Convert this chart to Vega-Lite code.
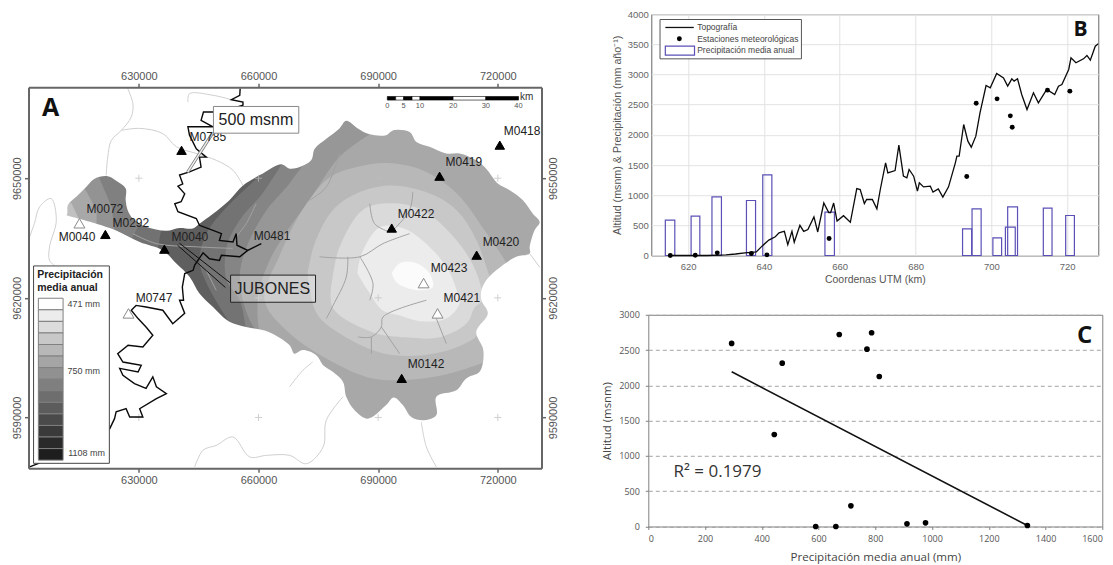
{
"$schema":"https://vega.github.io/schema/vega-lite/v6.json",
"padding":{"left":11.5,"top":8.2,"right":0,"bottom":0},
"background":"white",
"config":{"view":{"stroke":null},"font":"Liberation Sans","text":{"font":"Liberation Sans"}},
"datasets":{
"frame":[{"e":602.33,"n":9577.28},{"e":730.96,"n":9577.28},{"e":730.96,"n":9672.83},{"e":602.33,"n":9672.83}],
"r8":[{"e":661.0,"n":9651.2},{"e":652.0,"n":9642.7},{"e":647.0,"n":9636.2},{"e":645.2,"n":9629.4},{"e":647.0,"n":9623.6},{"e":655.3,"n":9609.4},{"e":670.3,"n":9581.8},{"e":730.9,"n":9581.8},{"e":730.9,"n":9672},{"e":661,"n":9672}],
"r7":[{"e":665.8,"n":9653.5},{"e":661.0,"n":9646.2},{"e":655.3,"n":9639.5},{"e":652.0,"n":9632.7},{"e":652.0,"n":9624.4},{"e":655.3,"n":9619.4},{"e":657.8,"n":9609.4},{"e":670.3,"n":9589.3},{"e":730.9,"n":9586},{"e":730.9,"n":9672},{"e":665.8,"n":9672}],
"r6":[{"e":674.1,"n":9657.5},{"e":667.8,"n":9648.7},{"e":662.0,"n":9642.0},{"e":657.0,"n":9632.7},{"e":655.3,"n":9625.2},{"e":657.8,"n":9614.4},{"e":665.3,"n":9604.4},{"e":670.3,"n":9589.3},{"e":687,"n":9586},{"e":730.9,"n":9586},{"e":730.9,"n":9672},{"e":674.1,"n":9672}],
"r5":[{"e":687.9,"n":9661.0},{"e":680.3,"n":9655.3},{"e":672.8,"n":9644.5},{"e":667.8,"n":9637.7},{"e":662.8,"n":9629.4},{"e":659.8,"n":9619.4},{"e":661.5,"n":9606.9},{"e":670.3,"n":9594.3},{"e":687.9,"n":9586.8},{"e":730.9,"n":9586.8},{"e":730.9,"n":9669.6},{"e":687.9,"n":9669.6}],
"r4":[{"e":664.8,"n":9629.4},{"e":667.8,"n":9636.2},{"e":672.1,"n":9643.7},{"e":677.8,"n":9650.2},{"e":684.6,"n":9652.8},{"e":692.1,"n":9653.8},{"e":701.1,"n":9652.0},{"e":709.7,"n":9646.2},{"e":717.2,"n":9636.2},{"e":722.2,"n":9628.7},{"e":726.2,"n":9621.1},{"e":718.0,"n":9605.1},{"e":712.2,"n":9602.3},{"e":701.1,"n":9599.8},{"e":688.6,"n":9599.8},{"e":678.6,"n":9603.9},{"e":667.8,"n":9611.1},{"e":661.5,"n":9619.4},{"e":664.8,"n":9629.4}],
"r3":[{"e":672.3,"n":9626.2},{"e":674.1,"n":9633.7},{"e":678.6,"n":9642.0},{"e":684.6,"n":9646.2},{"e":692.9,"n":9648.2},{"e":702.9,"n":9646.2},{"e":709.7,"n":9642.0},{"e":714.7,"n":9634.4},{"e":718.0,"n":9625.2},{"e":719.7,"n":9621.1},{"e":715.4,"n":9611.1},{"e":709.7,"n":9607.6},{"e":701.1,"n":9605.6},{"e":691.1,"n":9606.1},{"e":680.3,"n":9611.1},{"e":674.6,"n":9616.1},{"e":672.3,"n":9626.2}],
"r2":[{"e":678.6,"n":9625.2},{"e":680.3,"n":9632.7},{"e":686.1,"n":9642.0},{"e":692.9,"n":9643.7},{"e":701.1,"n":9642.0},{"e":709.7,"n":9634.4},{"e":714.7,"n":9626.2},{"e":716.0,"n":9619.4},{"e":714.2,"n":9617.6},{"e":712.2,"n":9613.6},{"e":705.4,"n":9610.1},{"e":697.1,"n":9610.1},{"e":688.6,"n":9611.4},{"e":678.6,"n":9617.6},{"e":678.6,"n":9625.2}],
"r1":[{"e":684.8,"n":9626.2},{"e":685.9,"n":9631.2},{"e":690.4,"n":9637.7},{"e":696.1,"n":9637.5},{"e":701.1,"n":9634.4},{"e":707.2,"n":9627.7},{"e":709.7,"n":9621.9},{"e":710.4,"n":9618.6},{"e":707.2,"n":9614.9},{"e":701.1,"n":9614.1},{"e":695.4,"n":9615.6},{"e":691.1,"n":9616.9},{"e":687.4,"n":9621.9},{"e":684.8,"n":9626.2}],
"r0":[{"e":693.4,"n":9626.2},{"e":695.4,"n":9628.7},{"e":699.6,"n":9628.7},{"e":702.9,"n":9626.2},{"e":703.7,"n":9622.7},{"e":701.1,"n":9621.9},{"e":697.4,"n":9622.4},{"e":694.6,"n":9623.9},{"e":693.4,"n":9626.2}],
"w1":[{"e":636.0,"n":9639.5},{"e":634.4,"n":9630.2},{"e":620.1,"n":9619.4},{"e":610.1,"n":9649.5},{"e":636,"n":9652}],
"w2":[{"e":629.7,"n":9637.7},{"e":627.7,"n":9633.7},{"e":620.1,"n":9629.4},{"e":610.1,"n":9629.4},{"e":610.1,"n":9652},{"e":629.7,"n":9652}],
"w3":[{"e":620.1,"n":9650},{"e":623.2,"n":9642.7},{"e":623.9,"n":9637},{"e":623.9,"n":9632},{"e":607.6,"n":9632},{"e":607.6,"n":9652},{"e":620.1,"n":9652}],
"w4":[{"e":616.4,"n":9647.5},{"e":619.4,"n":9642},{"e":619.4,"n":9637},{"e":607.6,"n":9637},{"e":607.6,"n":9649.5}],
"w5":[{"e":613.1,"n":9643.7},{"e":615.1,"n":9639.5},{"e":616.6,"n":9637.5},{"e":607.6,"n":9637.5},{"e":607.6,"n":9645.7}],
"mask":[{"e":611.8,"n":9640.7},{"e":606,"n":9640.7},{"e":600,"n":9640.7},{"e":560,"n":9640.7},{"e":500,"n":9640.7},{"e":500,"n":9400},{"e":850,"n":9400},{"e":850,"n":9800},{"e":500,"n":9800},{"e":500,"n":9640.7},{"e":560,"n":9640.7},{"e":600,"n":9640.7},{"e":606,"n":9640.7},
{"e":611.8,"n":9640.7},{"e":612.2,"n":9643.2},{"e":614.7,"n":9645.7},{"e":616.4,"n":9647.4},{"e":618.9,"n":9649.9},{"e":622.2,"n":9650.5},{"e":624.7,"n":9649.1},{"e":626.7,"n":9647.4},{"e":626.7,"n":9644.5},{"e":627.2,"n":9642.0},{"e":628.5,"n":9639.9},{"e":631.8,"n":9637.8},{"e":636.9,"n":9636.8},{"e":640.2,"n":9637.5},{"e":643.5,"n":9637.4},{"e":645.2,"n":9638.6},{"e":648.6,"n":9641.1},{"e":652.7,"n":9644.5},{"e":656.1,"n":9648.2},{"e":661.1,"n":9651.2},{"e":665.7,"n":9653.5},{"e":667.8,"n":9652.4},{"e":670.3,"n":9652.8},{"e":673.2,"n":9654.5},{"e":674.1,"n":9657.4},{"e":677.0,"n":9659.9},{"e":680.3,"n":9662.5},{"e":682.0,"n":9664.4},{"e":684.9,"n":9662.5},{"e":687.9,"n":9661.0},{"e":692.0,"n":9660.8},{"e":693.7,"n":9662.0},{"e":697.9,"n":9661.6},{"e":699.6,"n":9659.1},{"e":702.9,"n":9657.9},{"e":707.1,"n":9656.2},{"e":710.4,"n":9656.2},{"e":714.6,"n":9654.5},{"e":717.1,"n":9652.4},{"e":720.0,"n":9648.7},{"e":723.0,"n":9647.0},{"e":726.3,"n":9644.5},{"e":728.8,"n":9641.1},{"e":730.5,"n":9639.0},{"e":729.2,"n":9636.9},{"e":728.0,"n":9632.8},{"e":728.0,"n":9631.1},{"e":724.6,"n":9630.3},{"e":719.6,"n":9626.9},{"e":717.1,"n":9624.4},{"e":715.9,"n":9621.9},{"e":715.9,"n":9619.4},{"e":717.5,"n":9616.1},{"e":714.6,"n":9611.5},{"e":716.3,"n":9607.3},{"e":716.3,"n":9603.9},{"e":715.4,"n":9601.4},{"e":712.1,"n":9599.8},{"e":709.6,"n":9596.8},{"e":704.6,"n":9595.2},{"e":704.6,"n":9590.6},{"e":701.6,"n":9589.3},{"e":698.3,"n":9590.1},{"e":696.2,"n":9593.1},{"e":693.9,"n":9595.0},{"e":692.0,"n":9593.1},{"e":687.4,"n":9589.7},{"e":684.1,"n":9591.8},{"e":682.0,"n":9595.2},{"e":681.2,"n":9598.9},{"e":678.7,"n":9601.4},{"e":676.2,"n":9603.1},{"e":674.5,"n":9605.6},{"e":671.1,"n":9606.9},{"e":669.0,"n":9606.0},{"e":667.8,"n":9608.1},{"e":662.4,"n":9611.5},{"e":656.9,"n":9612.7},{"e":652.7,"n":9614.0},{"e":648.6,"n":9617.7},{"e":645.2,"n":9621.1},{"e":642.7,"n":9625.3},{"e":639.4,"n":9628.6},{"e":636.0,"n":9631.9},{"e":630.2,"n":9634.0},{"e":624.3,"n":9636.9},{"e":619.3,"n":9638.6},{"e":611.8,"n":9640.7}],
"riversOut":[{"g":"a","e":627.2,"n":9672.5},{"g":"a","e":628.5,"n":9668.7},{"g":"a","e":628.1,"n":9665.4},{"g":"a","e":625.6,"n":9662},{"g":"a","e":623.1,"n":9659.5},{"g":"a","e":622.2,"n":9655.3},{"g":"a","e":621.8,"n":9650.7},
{"g":"b","e":625.6,"n":9662},{"g":"b","e":630.2,"n":9662.5},{"g":"b","e":636,"n":9661.2},{"g":"b","e":639.4,"n":9657.9},{"g":"b","e":644.4,"n":9656.2},{"g":"b","e":649.4,"n":9654.5},{"g":"b","e":653.6,"n":9652},{"g":"b","e":656.1,"n":9648.2},
{"g":"c","e":642.3,"n":9669.1},{"g":"c","e":642.7,"n":9671.2},{"g":"c","e":648.6,"n":9670.8},{"g":"c","e":653.6,"n":9669.6},
{"g":"d","e":602.6,"n":9635.3},{"g":"d","e":603.8,"n":9638.6},{"g":"d","e":605.1,"n":9642.8},{"g":"d","e":608,"n":9644.9},{"g":"d","e":609.3,"n":9639.4},{"g":"d","e":607.6,"n":9632.8},{"g":"d","e":607.6,"n":9629.4},{"g":"d","e":609.3,"n":9627.7},
{"g":"e","e":644,"n":9577.6},{"g":"e","e":646.1,"n":9581.8},{"g":"e","e":649.4,"n":9583},{"g":"e","e":653.6,"n":9585.1},{"g":"e","e":657.8,"n":9580.1},{"g":"e","e":662,"n":9580.5},{"g":"e","e":667.8,"n":9580.5},{"g":"e","e":672,"n":9578.4},{"g":"e","e":676.2,"n":9582.6},{"g":"e","e":677,"n":9589.3},{"g":"e","e":681.2,"n":9595.2},
{"g":"f","e":667.8,"n":9597.7},{"g":"f","e":671.1,"n":9601.8},{"g":"f","e":673.6,"n":9603.9},
{"g":"h","e":704.6,"n":9577.6},{"g":"h","e":702.1,"n":9582.6},{"g":"h","e":700.8,"n":9588.9},
{"g":"i","e":728,"n":9631.1},{"g":"i","e":730.5,"n":9627.7}],
"riversIn":[{"g":"i","e":687.9,"n":9643.6},{"g":"i","e":689.1,"n":9638.6},{"g":"i","e":692.9,"n":9636.5},
{"g":"j","e":697.9,"n":9636.1},{"g":"j","e":691.2,"n":9633.6},{"g":"j","e":685.4,"n":9630.3},{"g":"j","e":675.3,"n":9630.3},
{"g":"k","e":685.4,"n":9630.3},{"g":"k","e":688.7,"n":9623.6},{"g":"k","e":687.9,"n":9619.4},
{"g":"l","e":682.4,"n":9630.3},{"g":"l","e":682,"n":9625.2},{"g":"l","e":678.7,"n":9618.1},{"g":"l","e":677,"n":9614.8},
{"g":"m","e":702.1,"n":9619.4},{"g":"m","e":691.2,"n":9615.2},{"g":"m","e":690.8,"n":9612.7},{"g":"m","e":688.3,"n":9610.2},{"g":"m","e":684.9,"n":9610.2},
{"g":"n","e":690.8,"n":9612.7},{"g":"n","e":695.4,"n":9606.0},
{"g":"o","e":688.3,"n":9610.2},{"g":"o","e":688.3,"n":9606},
{"g":"p","e":704.6,"n":9614.8},{"g":"p","e":707.1,"n":9608.5},
{"g":"q","e":698.7,"n":9646.6},{"g":"q","e":697.9,"n":9642},{"g":"q","e":693.7,"n":9636.9},
{"g":"r","e":628.5,"n":9636.1},{"g":"r","e":634.4,"n":9633.6},{"g":"r","e":644.4,"n":9632.8},{"g":"r","e":653.6,"n":9632.4},
{"g":"s","e":646.9,"n":9626.9},{"g":"s","e":649.4,"n":9621.9},
{"g":"t","e":659.4,"n":9643.6},{"g":"t","e":656.9,"n":9638.6},{"g":"t","e":654.4,"n":9635.3},
{"g":"u","e":680.3,"n":9656.2},{"g":"u","e":677,"n":9647.8},{"g":"u","e":672.8,"n":9644.5}],
"contour":[{"e":655.4,"n":9672.5},{"e":655.3,"n":9670.8},{"e":653.2,"n":9669.7},{"e":656.1,"n":9669.1},{"e":656.1,"n":9668.3},{"e":652,"n":9667},{"e":648.6,"n":9666.6},{"e":646.2,"n":9666.6},{"e":645.6,"n":9664.5},{"e":648.6,"n":9662.9},{"e":642.3,"n":9662.9},{"e":642.7,"n":9660.8},{"e":644.4,"n":9657.4},{"e":646.9,"n":9655.3},{"e":645.2,"n":9655.3},{"e":645.6,"n":9652.8},{"e":642.7,"n":9651.6},{"e":640.2,"n":9650.8},{"e":641.0,"n":9648.6},{"e":639.8,"n":9648.0},{"e":641.5,"n":9646.1},{"e":640.6,"n":9644.1},{"e":639.0,"n":9643.6},{"e":639.8,"n":9641.6},{"e":644.4,"n":9639.9},{"e":645.2,"n":9638.2},{"e":648.6,"n":9636.9},{"e":650.7,"n":9636.1},{"e":650.2,"n":9634.4},{"e":653.6,"n":9634.0},{"e":654.4,"n":9636.1},{"e":654.6,"n":9633.2},{"e":657.3,"n":9631.9},{"e":660.7,"n":9633.6},{"e":657.3,"n":9631.9},{"e":655.3,"n":9630.3},{"e":650.7,"n":9630.7},{"e":650.2,"n":9629.4},{"e":647.7,"n":9629.8},{"e":646.1,"n":9631.3},{"e":644,"n":9628.2},{"e":643.6,"n":9626.9},{"e":641.5,"n":9626.1},{"e":640.9,"n":9622.7},{"e":641.2,"n":9619.4},{"e":640.2,"n":9619.4},{"e":641.5,"n":9616.1},{"e":638.5,"n":9613.5},{"e":636.0,"n":9616.9},{"e":631.8,"n":9617.7},{"e":629.3,"n":9618.1},{"e":628.1,"n":9616.9},{"e":629.8,"n":9614.8},{"e":631.8,"n":9612.7},{"e":633.5,"n":9610.6},{"e":631.0,"n":9607.7},{"e":627.3,"n":9608.1},{"e":624.7,"n":9606.0},{"e":626,"n":9603.9},{"e":630.6,"n":9603.1},{"e":629.8,"n":9601.4},{"e":625.2,"n":9602.3},{"e":626,"n":9600.6},{"e":628.9,"n":9598.5},{"e":631.8,"n":9597.3},{"e":633.5,"n":9600.2},{"e":634.4,"n":9597.7},{"e":636.9,"n":9596},{"e":634.4,"n":9594.7},{"e":630.2,"n":9592.2},{"e":631,"n":9590.1},{"e":627.7,"n":9590.1},{"e":626.8,"n":9592.2},{"e":624.3,"n":9591.4},{"e":623.9,"n":9589.7},{"e":622.7,"n":9587.2},{"e":611.8,"n":9581.8},{"e":604.7,"n":9578.4},{"e":602.6,"n":9577.6}],
"crosses":[{"e":630,"n":9650},{"e":660,"n":9650},{"e":690,"n":9650},{"e":720,"n":9650},{"e":660,"n":9620},{"e":690,"n":9620},{"e":720,"n":9620},{"e":630,"n":9590},{"e":660,"n":9590},{"e":690,"n":9590},{"e":720,"n":9590}],
"stationsOn":[{"e":640.7,"n":9657.0},{"e":621.6,"n":9635.9},{"e":636.4,"n":9632.2},{"e":720.5,"n":9658.3},{"e":705.4,"n":9650.5},{"e":693.4,"n":9637.5},{"e":714.7,"n":9630.7},{"e":695.9,"n":9599.8}],
"stationsOff":[{"e":615.1,"n":9638.7},{"e":627.4,"n":9616.1},{"e":701.4,"n":9623.7},{"e":704.9,"n":9616.1}],
"labels":[{"t":"M0785","e":642.7,"n":9660.3},{"t":"M0072","e":616.9,"n":9642.2},{"t":"M0292","e":623.4,"n":9638.7},{"t":"M0040","e":609.9,"n":9635.2},{"t":"M0040","e":638.2,"n":9635.2},{"t":"M0481","e":658.8,"n":9635.5},{"t":"M0747","e":629.2,"n":9619.9},{"t":"M0418","e":721.5,"n":9661.8},{"t":"M0419","e":706.9,"n":9654.0},{"t":"M0422","e":694.9,"n":9641.0},{"t":"M0420","e":716.2,"n":9634.0},{"t":"M0423","e":703.2,"n":9627.4},{"t":"M0421","e":706.4,"n":9619.9},{"t":"M0142","e":697.4,"n":9603.3}],
"swatches":[{"band":1,"e":604.8,"e2":611.0,"n":9619.9,"n2":9617.0},{"band":2,"e":604.8,"e2":611.0,"n":9617.0,"n2":9614.1},{"band":3,"e":604.8,"e2":611.0,"n":9614.1,"n2":9611.2},{"band":4,"e":604.8,"e2":611.0,"n":9611.2,"n2":9608.3},{"band":5,"e":604.8,"e2":611.0,"n":9608.3,"n2":9605.4},{"band":6,"e":604.8,"e2":611.0,"n":9605.4,"n2":9602.5},{"band":7,"e":604.8,"e2":611.0,"n":9602.5,"n2":9599.6},{"band":8,"e":604.8,"e2":611.0,"n":9599.6,"n2":9596.7},{"band":9,"e":604.8,"e2":611.0,"n":9596.7,"n2":9593.8},{"band":10,"e":604.8,"e2":611.0,"n":9593.8,"n2":9590.9},{"band":11,"e":604.8,"e2":611.0,"n":9590.9,"n2":9588.0},{"band":12,"e":604.8,"e2":611.0,"n":9588.0,"n2":9585.1},{"band":13,"e":604.8,"e2":611.0,"n":9585.1,"n2":9582.2},{"band":14,"e":604.8,"e2":611.0,"n":9582.2,"n2":9579.3}],
"scalebar":[{"seg":"odd","e":692.3,"e2":694.4,"n":9670.5,"n2":9669.6},{"seg":"even","e":694.4,"e2":696.4,"n":9670.5,"n2":9669.6},{"seg":"odd","e":696.4,"e2":698.5,"n":9670.5,"n2":9669.6},{"seg":"even","e":698.5,"e2":700.5,"n":9670.5,"n2":9669.6},{"seg":"odd","e":700.5,"e2":708.8,"n":9670.5,"n2":9669.6},{"seg":"even","e":708.8,"e2":717.0,"n":9670.5,"n2":9669.6},{"seg":"odd","e":717.0,"e2":725.2,"n":9670.5,"n2":9669.6}],
"scaleLabels":[{"t":"0","e":692.3,"n":9668.1},{"t":"5","e":696.4,"n":9668.1},{"t":"10","e":700.5,"n":9668.1},{"t":"20","e":708.8,"n":9668.1},{"t":"30","e":717.0,"n":9668.1},{"t":"40","e":725.2,"n":9668.1}],
"topo":[{"k":615,"a":0},{"k":625,"a":0},{"k":630,"a":10},{"k":632.5,"a":25},{"k":635,"a":45},{"k":638,"a":60},{"k":639.5,"a":155},{"k":641.3,"a":255},{"k":643,"a":310},{"k":644,"a":375},{"k":644.8,"a":390},{"k":645.4,"a":400},{"k":646.3,"a":180},{"k":647.4,"a":400},{"k":648,"a":220},{"k":649.5,"a":500},{"k":650.5,"a":400},{"k":651.6,"a":430},{"k":653.2,"a":640},{"k":654.2,"a":390},{"k":655.8,"a":870},{"k":657.1,"a":710},{"k":657.6,"a":710},{"k":658.4,"a":870},{"k":659.3,"a":570},{"k":661,"a":660},{"k":662.8,"a":550},{"k":664.5,"a":1110},{"k":665.4,"a":1094},{"k":666.5,"a":862},{"k":667.1,"a":928},{"k":668.6,"a":928},{"k":669.8,"a":774},{"k":670.7,"a":1094},{"k":672.1,"a":1536},{"k":672.7,"a":1370},{"k":674.6,"a":1409},{"k":675.6,"a":1829},{"k":676.8,"a":1315},{"k":677.7,"a":1288},{"k":678.3,"a":1426},{"k":679.5,"a":1315},{"k":680.5,"a":1067},{"k":681,"a":1205},{"k":682.1,"a":1138},{"k":683.9,"a":1149},{"k":684.6,"a":1050},{"k":686,"a":1105},{"k":687.2,"a":967},{"k":688.7,"a":1138},{"k":690.5,"a":1536},{"k":690.9,"a":1647},{"k":691.5,"a":1647},{"k":692.7,"a":2172},{"k":693.8,"a":1895},{"k":694.7,"a":1796},{"k":695.9,"a":1978},{"k":697,"a":2365},{"k":698.6,"a":2818},{"k":699.7,"a":2780},{"k":701.4,"a":3017},{"k":703.2,"a":2945},{"k":704.3,"a":2807},{"k":705.4,"a":2929},{"k":706,"a":2890},{"k":706.9,"a":2929},{"k":708,"a":2669},{"k":709.4,"a":2420},{"k":711.1,"a":2697},{"k":712.4,"a":2531},{"k":714.6,"a":2752},{"k":716.7,"a":2669},{"k":717.7,"a":2807},{"k":718.6,"a":2835},{"k":720.4,"a":3084},{"k":721,"a":3277},{"k":722.3,"a":3194},{"k":724.3,"a":3260},{"k":725.2,"a":3316},{"k":726.1,"a":3238},{"k":727.4,"a":3470},{"k":728.2,"a":3509}],
"bars":[{"k":614.0,"k2":616.5,"a":586,"a0":0},{"k":620.8,"k2":623.1,"a":652,"a0":0},{"k":626.3,"k2":628.8,"a":973,"a0":0},{"k":635.4,"k2":637.8,"a":912,"a0":0},{"k":639.7,"k2":642.1,"a":1337,"a0":0},{"k":656.1,"k2":658.6,"a":718,"a0":0},{"k":692.4,"k2":694.8,"a":442,"a0":0},{"k":694.9,"k2":697.3,"a":774,"a0":0},{"k":700.4,"k2":702.7,"a":293,"a0":0},{"k":703.7,"k2":706.3,"a":470,"a0":0},{"k":704.3,"k2":706.9,"a":807,"a0":0},{"k":713.7,"k2":716,"a":785,"a0":0},{"k":719.6,"k2":721.9,"a":663,"a0":0}],
"dotsB":[{"k":615.3,"a":0},{"k":621.9,"a":5},{"k":627.7,"a":44},{"k":636.7,"a":33},{"k":640.8,"a":11},{"k":657.2,"a":282},{"k":693.5,"a":1310},{"k":696,"a":2525},{"k":701.5,"a":2597},{"k":705,"a":2315},{"k":705.5,"a":2127},{"k":714.8,"a":2741},{"k":720.7,"a":2724}],
"scatter":[{"p":293.7,"h":2594},{"p":472,"h":2315},{"p":673,"h":2721},{"p":770.6,"h":2513},{"p":787,"h":2745},{"p":814,"h":2126},{"p":444,"h":1304},{"p":714,"h":293},{"p":590,"h":0},{"p":661,"h":0},{"p":911.6,"h":38},{"p":977,"h":52},{"p":1336,"h":14}]
},
"hconcat":[
{"vconcat":[
 {"width":513,"height":72.3,"data":{"values":[{}]},"mark":{"type":"text","text":""}},
 {"width":513,"height":381,
  "encoding":{"x":{"field":"e","type":"quantitative","scale":{"domain":[602.33,730.96],"nice":false,"zero":false},"axis":null},"y":{"field":"n","type":"quantitative","scale":{"domain":[9577.28,9672.83],"nice":false,"zero":false},"axis":null}},
  "resolve":{"axis":{"x":"independent","y":"independent"},"scale":{"color":"independent"}},
  "layer":[
   {"data":{"name":"frame"},"transform":[{"window":[{"op":"row_number","as":"i"}]}],"mark":{"type":"line","fill":"#5f5f5f","stroke":"transparent","clip":true},"encoding":{"order":{"field":"i","type":"quantitative"}}},
   {"data":{"name":"r8"},"transform":[{"window":[{"op":"row_number","as":"i"}]}],"mark":{"type":"line","interpolate":"catmull-rom","clip":true,"fill":"#737373","stroke":"transparent"},"encoding":{"order":{"field":"i","type":"quantitative"}}},
   {"data":{"name":"r7"},"transform":[{"window":[{"op":"row_number","as":"i"}]}],"mark":{"type":"line","interpolate":"catmull-rom","clip":true,"fill":"#858585","stroke":"transparent"},"encoding":{"order":{"field":"i","type":"quantitative"}}},
   {"data":{"name":"r6"},"transform":[{"window":[{"op":"row_number","as":"i"}]}],"mark":{"type":"line","interpolate":"catmull-rom","clip":true,"fill":"#979797","stroke":"transparent"},"encoding":{"order":{"field":"i","type":"quantitative"}}},
   {"data":{"name":"r5"},"transform":[{"window":[{"op":"row_number","as":"i"}]}],"mark":{"type":"line","interpolate":"catmull-rom","clip":true,"fill":"#a8a8a8","stroke":"transparent"},"encoding":{"order":{"field":"i","type":"quantitative"}}},
   {"data":{"name":"r4"},"transform":[{"window":[{"op":"row_number","as":"i"}]}],"mark":{"type":"line","interpolate":"catmull-rom","clip":true,"fill":"#b8b8b8","stroke":"transparent"},"encoding":{"order":{"field":"i","type":"quantitative"}}},
   {"data":{"name":"r3"},"transform":[{"window":[{"op":"row_number","as":"i"}]}],"mark":{"type":"line","interpolate":"catmull-rom","clip":true,"fill":"#c8c8c8","stroke":"transparent"},"encoding":{"order":{"field":"i","type":"quantitative"}}},
   {"data":{"name":"r2"},"transform":[{"window":[{"op":"row_number","as":"i"}]}],"mark":{"type":"line","interpolate":"catmull-rom","clip":true,"fill":"#dadada","stroke":"transparent"},"encoding":{"order":{"field":"i","type":"quantitative"}}},
   {"data":{"name":"r1"},"transform":[{"window":[{"op":"row_number","as":"i"}]}],"mark":{"type":"line","interpolate":"catmull-rom","clip":true,"fill":"#ececec","stroke":"transparent"},"encoding":{"order":{"field":"i","type":"quantitative"}}},
   {"data":{"name":"r0"},"transform":[{"window":[{"op":"row_number","as":"i"}]}],"mark":{"type":"line","interpolate":"catmull-rom","clip":true,"fill":"#fbfbfb","stroke":"transparent"},"encoding":{"order":{"field":"i","type":"quantitative"}}},
   {"data":{"name":"w1"},"transform":[{"window":[{"op":"row_number","as":"i"}]}],"mark":{"type":"line","clip":true,"fill":"#727272","stroke":"transparent"},"encoding":{"order":{"field":"i","type":"quantitative"}}},
   {"data":{"name":"w2"},"transform":[{"window":[{"op":"row_number","as":"i"}]}],"mark":{"type":"line","clip":true,"fill":"#808080","stroke":"transparent"},"encoding":{"order":{"field":"i","type":"quantitative"}}},
   {"data":{"name":"w3"},"transform":[{"window":[{"op":"row_number","as":"i"}]}],"mark":{"type":"line","clip":true,"fill":"#939393","stroke":"transparent"},"encoding":{"order":{"field":"i","type":"quantitative"}}},
   {"data":{"name":"w4"},"transform":[{"window":[{"op":"row_number","as":"i"}]}],"mark":{"type":"line","clip":true,"fill":"#a8a8a8","stroke":"transparent"},"encoding":{"order":{"field":"i","type":"quantitative"}}},
   {"data":{"name":"w5"},"transform":[{"window":[{"op":"row_number","as":"i"}]}],"mark":{"type":"line","clip":true,"fill":"#c0c0c0","stroke":"transparent"},"encoding":{"order":{"field":"i","type":"quantitative"}}},
   {"data":{"name":"mask"},"transform":[{"window":[{"op":"row_number","as":"i"}]}],"mark":{"type":"line","interpolate":"catmull-rom","clip":true,"fill":"white","stroke":"transparent"},"encoding":{"order":{"field":"i","type":"quantitative"}}},
   {"data":{"name":"riversOut"},"transform":[{"window":[{"op":"row_number","as":"i"}]}],"mark":{"type":"line","interpolate":"catmull-rom","stroke":"#cfcfcf","strokeWidth":1},"encoding":{"detail":{"field":"g"},"order":{"field":"i","type":"quantitative"}}},
   {"data":{"name":"riversIn"},"transform":[{"window":[{"op":"row_number","as":"i"}]}],"mark":{"type":"line","interpolate":"catmull-rom","stroke":"#a2a2a2","strokeWidth":1},"encoding":{"detail":{"field":"g"},"order":{"field":"i","type":"quantitative"}}},
   {"data":{"name":"crosses"},"mark":{"type":"point","shape":"M-1,0H1M0,-1V1","filled":false,"stroke":"#bdbdbd","strokeWidth":1,"size":50}},
   {"data":{"name":"contour"},"transform":[{"window":[{"op":"row_number","as":"i"}]}],"mark":{"type":"line","stroke":"#0a0a0a","strokeWidth":1.4},"encoding":{"order":{"field":"i","type":"quantitative"}}},
   {"data":{"values":[{"e":603.6,"e2":622.6,"n":9628,"n2":9578.5}]},"mark":{"type":"rect","fill":"white","stroke":"#444","strokeWidth":1},"encoding":{"x2":{"field":"e2"},"y2":{"field":"n2"}}},
   {"data":{"name":"swatches"},"mark":{"type":"rect","stroke":"#7f7f7f","strokeWidth":1},"encoding":{"x2":{"field":"e2"},"y2":{"field":"n2"},"color":{"field":"band","type":"ordinal","legend":null,"scale":{"range":["#ffffff","#ececec","#dcdcdc","#c8c8c8","#b8b8b8","#a5a5a5","#919191","#7f7f7f","#6e6e6e","#5c5c5c","#4a4a4a","#3a3a3a","#2a2a2a","#1e1e1e"]}}}},
   {"data":{"values":[{"t":"Precipitación","e":604.5,"n":9625.7},{"t":"media anual","e":604.5,"n":9622.4}]},"mark":{"type":"text","align":"left","baseline":"middle","fontSize":10.5,"fontWeight":"bold","fill":"#222"},"encoding":{"text":{"field":"t"}}},
   {"data":{"values":[{"t":"471 mm","e":612.1,"n":9618.4},{"t":"750 mm","e":612.1,"n":9601.6},{"t":"1108 mm","e":612.3,"n":9581.1}]},"mark":{"type":"text","align":"left","baseline":"middle","fontSize":9,"fill":"#444"},"encoding":{"text":{"field":"t"}}},
   {"data":{"values":[{"e":648.5,"n":9661.3},{"e":642.2,"n":9651.5}]},"mark":{"type":"line","stroke":"#777","strokeWidth":3},"encoding":{}},
   {"data":{"values":[{"e":648.5,"n":9661.3},{"e":642.2,"n":9651.5}]},"mark":{"type":"line","stroke":"#eee","strokeWidth":1.4},"encoding":{}},
   {"data":{"values":[{"e":640.2,"n":9633.7},{"e":653,"n":9623.7}]},"mark":{"type":"line","stroke":"#111","strokeWidth":1},"encoding":{}},
   {"data":{"values":[{"e":639.7,"n":9633.2},{"e":651.7,"n":9622.6}]},"mark":{"type":"line","stroke":"#111","strokeWidth":1},"encoding":{}},
   {"data":{"name":"stationsOn"},"mark":{"type":"point","shape":"triangle-up","filled":true,"fill":"#000","stroke":"#000","strokeWidth":1,"size":90,"opacity":1}},
   {"data":{"name":"stationsOff"},"mark":{"type":"point","shape":"triangle-up","filled":true,"fill":"#ffffff","stroke":"#8a8a8a","strokeWidth":1,"size":120,"opacity":1}},
   {"data":{"name":"labels"},"mark":{"type":"text","align":"left","baseline":"middle","fontSize":12,"fill":"#222"},"encoding":{"text":{"field":"t"}}},
   {"data":{"values":[{"e":648.7,"e2":670.1,"n":9668.0,"n2":9661.3}]},"mark":{"type":"rect","fill":"white","stroke":"#888","strokeWidth":1},"encoding":{"x2":{"field":"e2"},"y2":{"field":"n2"}}},
   {"data":{"values":[{"e":653,"e2":674.3,"n":9625.7,"n2":9618.9}]},"mark":{"type":"rect","fill":"white","fillOpacity":0.3,"stroke":"#222","strokeWidth":1},"encoding":{"x2":{"field":"e2"},"y2":{"field":"n2"}}},
   {"data":{"values":[{"t":"500 msnm","e":650,"n":9664.5},{"t":"JUBONES","e":654,"n":9622.2}]},"mark":{"type":"text","align":"left","baseline":"middle","fontSize":16,"fill":"#222"},"encoding":{"text":{"field":"t"}}},
   {"data":{"name":"scalebar"},"mark":{"type":"rect","stroke":"#000","strokeWidth":0.6},"encoding":{"x2":{"field":"e2"},"y2":{"field":"n2"},"color":{"field":"seg","type":"nominal","legend":null,"scale":{"domain":["odd","even"],"range":["#000000","#ffffff"]}}}},
   {"data":{"name":"scaleLabels"},"mark":{"type":"text","align":"center","baseline":"middle","fontSize":7.5,"fill":"#555"},"encoding":{"text":{"field":"t"}}},
   {"data":{"values":[{"t":"km","e":725.6,"n":9670.3}]},"mark":{"type":"text","align":"left","baseline":"middle","fontSize":10,"fill":"#333"},"encoding":{"text":{"field":"t"}}},
   {"data":{"values":[{"t":"A","e":607.9,"n":9667.6}]},"mark":{"type":"text","align":"center","baseline":"middle","fontSize":25,"fontWeight":"bold","font":"Open Sans","fill":"#111"},"encoding":{"text":{"field":"t"}}},
   {"data":{"values":[{"e":630,"n":9650}]},"mark":{"type":"point","opacity":0},"encoding":{
     "x":{"field":"e","type":"quantitative","axis":{"orient":"bottom","values":[630,660,690,720],"labelExpr":"format(datum.value*1000,'d')","title":null,"grid":false,"tickSize":4,"labelPadding":2,"domainColor":"#666","domainWidth":2,"tickColor":"#666","tickWidth":1.5,"labelColor":"#555","labelFontSize":11,"labelFont":"Liberation Sans","zindex":1}},
     "y":{"field":"n","type":"quantitative","axis":{"orient":"left","values":[9590,9620,9650],"labelExpr":"format(datum.value*1000,'d')","title":null,"grid":false,"tickSize":4,"labelPadding":2,"labelAngle":270,"labelAlign":"center","labelBaseline":"bottom","domainColor":"#666","domainWidth":2,"tickColor":"#666","tickWidth":1.5,"labelColor":"#555","labelFontSize":11,"labelFont":"Liberation Sans","zindex":1}}}},
   {"data":{"values":[{"e":630,"n":9650}]},"mark":{"type":"point","opacity":0},"encoding":{
     "x":{"field":"e","type":"quantitative","axis":{"orient":"top","values":[630,660,690,720],"labelExpr":"format(datum.value*1000,'d')","title":null,"grid":false,"tickSize":4,"labelPadding":2,"domainColor":"#666","domainWidth":2,"tickColor":"#666","tickWidth":1.5,"labelColor":"#555","labelFontSize":11,"labelFont":"Liberation Sans","zindex":1}},
     "y":{"field":"n","type":"quantitative","axis":{"orient":"right","values":[9590,9620,9650],"labelExpr":"format(datum.value*1000,'d')","title":null,"grid":false,"tickSize":4,"labelPadding":2,"labelAngle":270,"labelAlign":"center","labelBaseline":"top","domainColor":"#666","domainWidth":2,"tickColor":"#666","tickWidth":1.5,"labelColor":"#555","labelFontSize":11,"labelFont":"Liberation Sans","zindex":1}}}}
  ]}
 ],"spacing":0,"bounds":"flush"},
{"vconcat":[
 {"hconcat":[
  {"width":2.4,"height":241.3,"data":{"values":[{}]},"mark":{"type":"text","text":""}},
  {"width":447,"height":241.3,"view":{"stroke":"#666","strokeWidth":1},
   "encoding":{"x":{"field":"k","type":"quantitative","scale":{"domain":[610.3,728.2],"nice":false,"zero":false},"axis":{"values":[620,640,660,680,700,720],"title":"Coordenas UTM (km)","titleFontSize":10.5,"titleFontWeight":"normal","titleColor":"#555","titlePadding":4,"labelColor":"#666","labelFontSize":9.5,"labelPadding":6,"tickSize":0,"domain":false,"gridColor":"#e2e2e2","grid":true}},
    "y":{"field":"a","type":"quantitative","scale":{"domain":[0,4000],"nice":false},"axis":{"values":[0,500,1000,1500,2000,2500,3000,3500,4000],"format":"d","title":"Altitud (msnm) & Precipitación (mm año⁻¹)","titleFontSize":10.7,"titleFontWeight":"normal","titleColor":"#555","titlePadding":4.5,"labelColor":"#666","labelFontSize":9.5,"labelPadding":3,"tickSize":0,"domain":false,"gridColor":"#e2e2e2","grid":true}}},
   "layer":[
    {"data":{"name":"bars"},"mark":{"type":"rect","fill":"transparent","stroke":"#5a50b5","strokeWidth":1.2},"encoding":{"x2":{"field":"k2"},"y2":{"field":"a0"}}},
    {"data":{"name":"topo"},"transform":[{"window":[{"op":"row_number","as":"i"}]}],"mark":{"type":"line","stroke":"#0a0a0a","strokeWidth":1.3},"encoding":{"order":{"field":"i","type":"quantitative"}}},
    {"data":{"name":"dotsB"},"mark":{"type":"circle","size":24,"color":"#000","opacity":1}},
    {"data":{"values":[{"k":612.6,"k2":649.9,"a":3912,"a0":3260}]},"mark":{"type":"rect","fill":"white","stroke":"#555","strokeWidth":1},"encoding":{"x2":{"field":"k2"},"y2":{"field":"a0"}}},
    {"data":{"values":[{"k":614.0,"a":3780},{"k":621.5,"a":3780}]},"mark":{"type":"line","stroke":"#111","strokeWidth":1.3},"encoding":{}},
    {"data":{"values":[{"k":617.7,"a":3592}]},"mark":{"type":"circle","size":24,"color":"#000","opacity":1}},
    {"data":{"values":[{"k":614.0,"k2":621.7,"a":3470,"a0":3321}]},"mark":{"type":"rect","fill":"transparent","stroke":"#5a50b5","strokeWidth":1.2},"encoding":{"x2":{"field":"k2"},"y2":{"field":"a0"}}},
    {"data":{"values":[{"t":"Topografía","k":622.4,"a":3780},{"t":"Estaciones meteorológicas","k":622.4,"a":3592},{"t":"Precipitación media anual","k":622.4,"a":3404}]},"mark":{"type":"text","align":"left","baseline":"middle","fontSize":8.5,"fill":"#444"},"encoding":{"text":{"field":"t"}}},
    {"data":{"values":[{"t":"B","k":723.5,"a":3735}]},"mark":{"type":"text","align":"center","baseline":"middle","fontSize":21,"fontWeight":"bold","font":"Open Sans","fill":"#111"},"encoding":{"text":{"field":"t"}}}
   ]}
 ],"spacing":0,"bounds":"flush"},
 {"width":454,"height":211.7,"view":{"stroke":"#808080","strokeWidth":1},
  "encoding":{"x":{"field":"p","type":"quantitative","scale":{"domain":[0,1600],"nice":false},"axis":{"values":[0,200,400,600,800,1000,1200,1400,1600],"format":"d","title":"Precipitación media anual (mm)","titleFont":"Open Sans","titleFontSize":11.6,"titleFontWeight":"normal","titleColor":"#444","titlePadding":8,"labelFont":"Open Sans","labelColor":"#555","labelFontSize":9,"labelPadding":5,"tickSize":3,"tickColor":"#808080","domain":false,"grid":false}},
   "y":{"field":"h","type":"quantitative","scale":{"domain":[0,3000],"nice":false},"axis":{"values":[0,500,1000,1500,2000,2500,3000],"format":"d","title":"Altitud (msnm)","titleFont":"Open Sans","titleFontSize":11.4,"titleFontWeight":"normal","titleColor":"#444","titlePadding":6,"labelFont":"Open Sans","labelColor":"#555","labelFontSize":9,"labelPadding":6,"tickSize":3,"tickColor":"#808080","domain":false,"grid":true,"gridDash":[4,3],"gridColor":"#a4a4a4"}}},
  "layer":[
   {"data":{"values":[{"p":294,"h":2192},{"p":1336,"h":14}]},"mark":{"type":"line","stroke":"#111","strokeWidth":1.6},"encoding":{}},
   {"data":{"name":"scatter"},"mark":{"type":"circle","size":32,"color":"#000","opacity":1}},
   {"data":{"values":[{"t":"R² = 0.1979","p":89,"h":770}]},"mark":{"type":"text","align":"left","baseline":"middle","fontSize":17,"font":"Open Sans","fill":"#333"},"encoding":{"text":{"field":"t"}}},
   {"data":{"values":[{"t":"C","p":1538,"h":2697}]},"mark":{"type":"text","align":"center","baseline":"middle","fontSize":24,"fontWeight":"bold","font":"Open Sans","fill":"#111"},"encoding":{"text":{"field":"t"}}}
  ]}
 ],"spacing":300.6,"bounds":"flush"}
],"spacing":619.8,"bounds":"flush"
}
